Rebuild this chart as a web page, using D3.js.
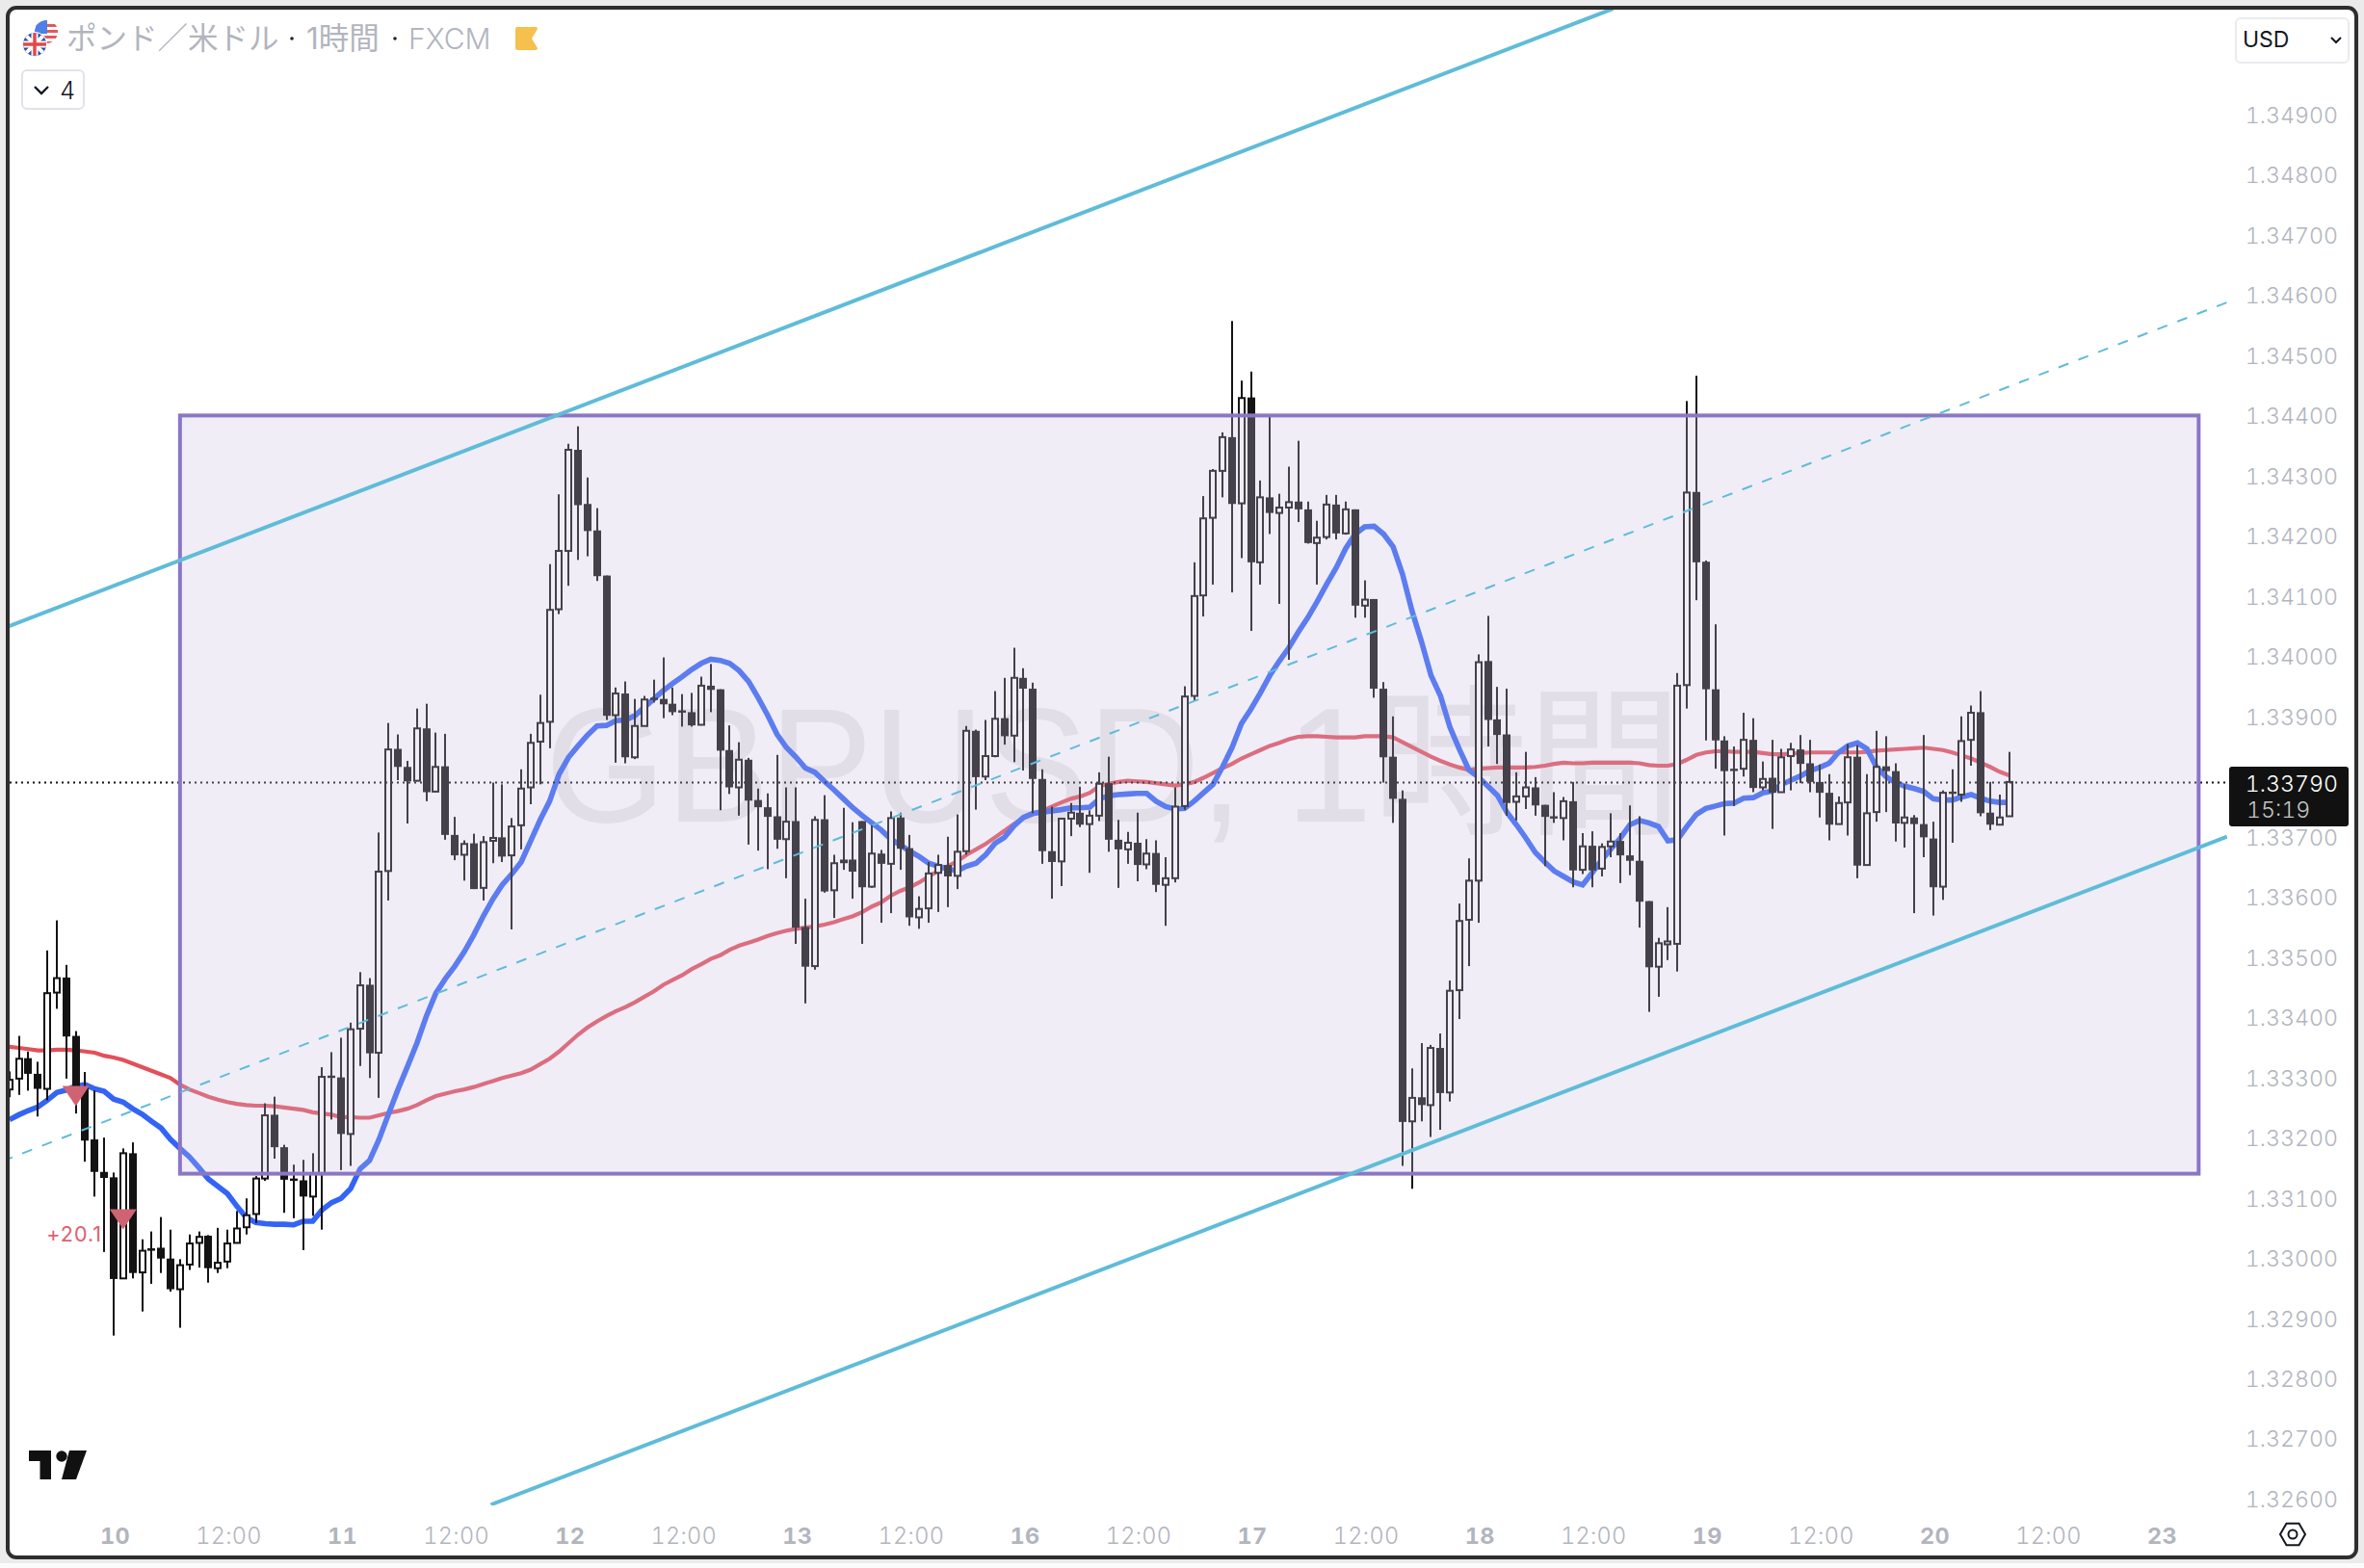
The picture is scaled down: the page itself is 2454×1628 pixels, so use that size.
<!DOCTYPE html>
<html><head><meta charset="utf-8">
<script src="https://cdn.jsdelivr.net/npm/d3@7/dist/d3.min.js"></script>
<style>html,body{margin:0;padding:0;background:#ebebeb;overflow:hidden}svg{display:block}
text{font-family:Inter,"Noto Sans CJK JP",sans-serif}</style></head><body><svg id="c" width="2454" height="1628"></svg>
<script>
// GBP/USD 1h candles, prices in points (1e-5). First bar sits 11 hours before the "10" tick.
const firstBar = -11;
const open = [133280,133298,133332,133306,133281,133441,133466,133369,133283,133197,133143,
133134,132966,133174,132976,133016,133017,132999,132948,132989,133025,133037,132983,132994,133025,133051,133073,133132,133238,133184,133132,133129,133102,133141,133303,
133300,133206,133381,133454,133341,133643,133846,133816,133793,133880,133775,133817,133703,133670,133689,133615,133694,133699,133669,133719,133782,133858,133891,
134078,134175,134343,134253,134209,134134,133902,133938,133832,133884,133931,133929,133921,133910,133907,133886,133951,133945,133844,133782,133828,133761,133749,
133734,133696,133726,133550,133485,133729,133611,133662,133662,133726,133617,133672,133655,133732,133681,133566,133581,133640,133653,133635,133676,133876,133800,133834,133897,133868,133964,133946,133796,133676,
133659,133730,133740,133721,133735,133789,133695,133679,133690,133654,133673,133620,133631,133751,133934,134101,134230,134308,134364,134254,134430,134156,134264,134238,134247,134257,134244,134188,134198,134252,134204,134244,134084,134095,
133946,133833,133763,133227,133267,133254,133349,133275,133445,133562,133627,133992,133895,133870,133758,133767,133782,133753,133734,133731,133759,133645,133685,133647,133684,133693,133669,133660,133593,133484,133524,133522,
133952,134273,134157,133945,133860,133813,133813,133861,133782,133798,133774,133834,133845,133822,133791,133773,133721,133757,133833,133653,133741,133817,133809,133723,133732,133721,133697,133617,133775,133770,133861,133907,133740,133720,133734];
const close = [133296,133331,133306,133281,133440,133465,133368,133283,133195,133143,133133,
132965,133174,132975,133012,133012,132999,132948,132988,133024,133035,132983,132992,133024,133049,133071,133132,133237,133184,133130,133130,133102,133140,133301,133301,
133206,133380,133453,133340,133642,133845,133816,133792,133880,133774,133816,133703,133669,133688,133613,133691,133698,133667,133717,133780,133856,133889,134077,
134175,134343,134251,134208,134133,133901,133938,133832,133884,133928,133928,133920,133907,133907,133885,133951,133944,133843,133782,133828,133760,133749,133733,
133695,133725,133549,133484,133728,133609,133656,133656,133642,133616,133672,133655,133731,133680,133566,133580,133639,133653,133634,133675,133876,133799,133834,133896,133867,133964,133946,133796,133676,133658,
133730,133740,133720,133735,133788,133695,133679,133690,133653,133672,133620,133631,133750,133933,134100,134229,134308,134364,134253,134429,134156,134264,134238,134247,134256,134244,134188,134197,134252,134204,134244,134084,134094,133946,
133832,133763,133226,133266,133254,133349,133274,133444,133560,133627,133990,133894,133869,133756,133767,133782,133752,133733,133731,133759,133644,133684,133644,133683,133692,133669,133660,133592,133483,133523,133526,133951,
134272,134156,133945,133860,133809,133811,133861,133781,133796,133773,133832,133845,133821,133791,133773,133720,133756,133832,133652,133739,133816,133809,133722,133732,133721,133699,133616,133773,133773,133859,133906,133739,133720,133732,133791];
const high = [133310,133369,133343,133326,133511,133561,133487,133377,133309,133278,133200,
133142,133182,133192,133031,133044,133068,133047,132998,133039,133044,133038,133050,133047,133078,133099,133136,133257,133268,133188,133155,133163,133174,133317,133342,
133366,133391,133475,133465,133707,133889,133870,133826,133913,133921,133873,133871,133733,133694,133705,133701,133790,133787,133731,133812,133871,133936,134153,
134269,134353,134382,134297,134246,134134,133948,133958,133929,133934,133961,133998,133948,133937,133939,133966,133987,133945,133885,133857,133831,133780,133772,
133836,133782,133782,133597,133734,133769,133670,133748,133724,133726,133719,133678,133742,133740,133703,133601,133658,133670,133700,133737,133884,133878,133894,133942,133964,134014,133980,133956,133812,133750,
133731,133756,133783,133744,133807,133833,133728,133708,133740,133696,133694,133666,133782,133950,134156,134266,134311,134372,134557,134458,134473,134292,134401,134270,134315,134358,134257,134225,134268,134268,134257,134244,134126,134095,
133957,133900,133777,133315,133357,133354,133373,133461,133589,133664,134003,134067,133949,133946,133807,133841,133799,133753,133774,133766,133791,133706,133709,133689,133739,133706,133752,133734,133593,133532,133583,133972,
134424,134466,134159,134053,133867,133850,133906,133897,133825,133861,133846,133856,133869,133861,133820,133804,133767,133854,133852,133804,133876,133867,133822,133787,133736,133869,133725,133777,133812,133900,133918,133942,133791,133770,133841];
const low = [133267,133271,133278,133235,133262,133414,133298,133240,133160,133102,133010,
132871,132966,132966,132911,132957,132975,132944,132884,132980,132984,132959,132975,132983,133024,133039,133058,133128,133165,133075,133066,133013,133070,133047,133230,
133146,133153,133319,133299,133266,133594,133794,133722,133792,133759,133774,133695,133661,133627,133613,133594,133656,133658,133546,133679,133754,133787,133847,
134070,134117,134160,134166,134125,133894,133823,133822,133829,133884,133923,133897,133902,133883,133883,133885,133907,133744,133771,133735,133687,133677,133646,
133680,133631,133522,133423,133479,133607,133565,133645,133597,133522,133615,133557,133573,133645,133552,133547,133557,133575,133583,133613,133670,133745,133794,133832,133853,133824,133810,133739,133655,133597,
133618,133701,133716,133640,133726,133675,133615,133655,133626,133646,133608,133552,133624,133745,133926,134066,134119,134264,134106,134163,134042,134119,134203,134087,133994,134223,134187,134119,134194,134194,134202,134064,134064,133931,
133790,133723,133153,133115,133227,133201,133213,133260,133397,133485,133557,133850,133821,133735,133727,133746,133735,133651,133723,133694,133616,133638,133616,133634,133666,133623,133636,133549,133409,133434,133495,133476,
133913,134093,133860,133813,133702,133751,133800,133774,133777,133713,133774,133777,133789,133774,133732,133694,133721,133702,133631,133652,133725,133741,133692,133682,133573,133666,133569,133595,133690,133758,133818,133734,133711,133720,133734];
// EMA lines read bar by bar
const maFast = [133230,133238,133245,133251,133262,133275,133279,133286,133288,133281,133277,
133264,133259,133248,133239,133227,133216,133197,133182,133168,133150,133131,133119,133107,133086,133067,133059,133057,133056,133056,133055,133061,133061,133080,133092,
133099,133115,133148,133162,133197,133239,133280,133318,133357,133402,133440,133464,133485,133509,133537,133568,133596,133620,133638,133658,133693,133728,133759,
133804,133832,133851,133869,133884,133885,133893,133894,133901,133915,133929,133943,133955,133966,133978,133988,133995,133993,133988,133976,133958,133931,133902,
133870,133848,133832,133814,133807,133792,133778,133763,133748,133735,133723,133711,133696,133686,133676,133667,133656,133651,133647,133643,133651,133656,133670,133689,133699,133718,133732,133739,133741,133743,
133745,133748,133748,133749,133763,133768,133770,133771,133772,133772,133759,133750,133746,133747,133759,133773,133787,133816,133848,133888,133912,133939,133968,133992,134014,134040,134064,134091,134120,134147,134179,134203,134215,134216,
134203,134182,134136,134075,134024,133968,133934,133882,133845,133811,133799,133784,133769,133741,133720,133698,133674,133658,133643,133634,133625,133620,133640,133661,133680,133698,133720,133727,133723,133717,133693,133695,
133717,133737,133747,133751,133755,133756,133764,133765,133773,133776,133787,133794,133801,133810,133815,133822,133840,133851,133856,133846,133816,133800,133790,133784,133780,133775,133763,133761,133761,133766,133770,133764,133759,133757,133757];
const maSlow = [133351,133349,133347,133345,133345,133346,133346,133345,133343,133341,133336,
133333,133329,133323,133317,133311,133305,133299,133288,133280,133274,133268,133263,133259,133256,133254,133253,133253,133252,133250,133248,133246,133242,133240,133238,
133234,133234,133233,133233,133237,133241,133244,133248,133254,133262,133269,133273,133277,133280,133284,133289,133294,133299,133303,133307,133313,133322,133331,
133343,133357,133371,133383,133393,133402,133410,133417,133425,133434,133443,133454,133462,133470,133480,133488,133497,133503,133512,133519,133524,133529,133535,
133540,133544,133547,133549,133551,133554,133558,133563,133568,133575,133584,133591,133602,133610,133616,133624,133634,133643,133651,133659,133670,133679,133688,133699,133710,133721,133731,133737,133743,133750,
133757,133763,133767,133773,133784,133788,133791,133793,133792,133791,133789,133787,133785,133787,133791,133798,133806,133814,133821,133830,133837,133844,133851,133856,133862,133866,133867,133867,133866,133865,133865,133865,133867,133867,
133867,133865,133857,133849,133841,133833,133826,133820,133815,133811,133813,133814,133815,133815,133815,133815,133816,133818,133821,133823,133822,133822,133823,133823,133823,133823,133823,133822,133819,133818,133818,133821,
133828,133836,133840,133842,133842,133841,133841,133841,133839,133837,133837,133838,133839,133840,133840,133840,133840,133840,133840,133841,133843,133844,133845,133846,133847,133848,133846,133844,133840,133835,133830,133823,133816,133808,133802];
// Drawings: [bar, price] pairs
const channelUpper = [[-11.2,134049],[158.2,135076]];
const channelMid = [[-11.74,133161],[223,134588]];
const channelLower = [[39.8,132590],[223,133700]];
const boxBars = [7,220];
const boxPrices = [134400,133140];
const signalBars = [-4,1];
const signalPrices = [133286,133081];
const lastPrice = 133790;
const priceTicks = d3.range(132600,134901,100).filter(p=>p!==133800);
const timeBars = [0,12,24,36,48,60,72,84,96,108,120,132,144,156,168,180,192,204,216];
const timeLabels = ["10","12:00","11","12:00","12","12:00","13","12:00","16","12:00","17","12:00","18","12:00","19","12:00","20","12:00","23"];

const svg = d3.select("#c");
const x = d3.scaleLinear().domain([0,216]).range([118,2243]);
const y = d3.scaleLinear().domain([132600,134900]).range([1556,119]);
const defs = svg.append("defs");
defs.append("clipPath").attr("id","pane").append("rect").attr("x",10).attr("y",10).attr("width",2302).attr("height",1553);
defs.append("clipPath").attr("id","fUS").append("circle").attr("cx",48).attr("cy",33).attr("r",12);
defs.append("clipPath").attr("id","fUK").append("circle").attr("cx",36).attr("cy",46).attr("r",12);

// page and pane
svg.append("rect").attr("x",8).attr("y",8).attr("width",2438).attr("height",1609).attr("rx",9).attr("fill","#fff");
svg.append("rect").attr("x",0).attr("y",1623).attr("width",2454).attr("height",5).attr("fill","#fbfbfb");

// watermark
svg.append("text").attr("x",1156).attr("y",853).attr("text-anchor","middle").attr("font-size",168)
  .attr("textLength",1180).attr("lengthAdjust","spacingAndGlyphs")
  .attr("fill","#eaeaea").style("font-family",'"Liberation Sans","Noto Sans CJK JP",sans-serif').text("GBPUSD, 1時間");

const pane = svg.append("g").attr("clip-path","url(#pane)");
const line = d3.line().x((d,i)=>x(firstBar+i)).y(d=>y(d));
pane.append("path").attr("d",line(maSlow)).attr("fill","none").attr("stroke","#e2505a").attr("stroke-width",4.2);
pane.append("path").attr("d",line(maFast)).attr("fill","none").attr("stroke","#3464f5").attr("stroke-width",5.6);

// candles
const candles = open.map((o,i)=>({k:firstBar+i,o,c:close[i],h:high[i],l:low[i]}));
const cx = d=>Math.round(x(d.k));
const cg = pane.append("g");
cg.selectAll("rect.w").data(candles).join("rect").attr("class","w")
  .attr("x",d=>cx(d)-1).attr("width",2).attr("y",d=>y(d.h)).attr("height",d=>y(d.l)-y(d.h)).attr("fill","#131313");
cg.selectAll("rect.b").data(candles).join("rect").attr("class","b")
  .each(function(d){
    const up=d.c>=d.o, t=y(Math.max(d.o,d.c)), b=y(Math.min(d.o,d.c));
    const r=d3.select(this);
    if(up){r.attr("x",cx(d)-3).attr("width",6).attr("y",t).attr("height",Math.max(b-t,3)).attr("fill","#fff").attr("stroke","#131313").attr("stroke-width",2);}
    else{r.attr("x",cx(d)-4).attr("width",8).attr("y",t).attr("height",Math.max(b-t,2.4)).attr("fill","#131313");}
  });

// signals
svg.selectAll("path.sig").data(signalBars).join("path").attr("class","sig")
  .attr("d",(k,i)=>{const px=x(k),py=y(signalPrices[i]);return `M${px-14},${py}L${px+14},${py}L${px},${py+21}Z`;})
  .attr("fill","#cf6373");
svg.append("text").attr("x",106).attr("y",1289).attr("text-anchor","end").attr("font-size",21.5).attr("letter-spacing",1).attr("fill","#e0606c").text("+20.1");

// last price line
svg.append("line").attr("x1",10).attr("x2",2314).attr("y1",y(lastPrice)).attr("y2",y(lastPrice))
  .attr("stroke","#111").attr("stroke-width",2).attr("stroke-dasharray","2 4");

// box overlay
svg.append("rect").attr("x",x(boxBars[0])).attr("width",x(boxBars[1])-x(boxBars[0]))
  .attr("y",y(boxPrices[0])).attr("height",y(boxPrices[1])-y(boxPrices[0]))
  .attr("fill","rgb(200,189,226)").attr("fill-opacity",.275).attr("stroke","#8c76c6").attr("stroke-width",4);

// channel
const seg = d3.line().x(d=>x(d[0])).y(d=>y(d[1]));
const chG = svg.append("g").attr("clip-path","url(#pane)");
[channelUpper,channelLower].forEach(c=>chG.append("path").attr("d",seg(c)).attr("fill","none").attr("stroke","#5fbcd8").attr("stroke-width",4));
chG.append("path").attr("d",seg(channelMid)).attr("fill","none").attr("stroke","#5fbcd8").attr("stroke-width",2).attr("stroke-dasharray","11 11");

// axes
const yAxis = d3.axisRight(y).tickValues(priceTicks).tickSize(0).tickPadding(0).tickFormat(d=>(d/1e5).toFixed(5));
const yg = svg.append("g").attr("transform","translate(2427,1)").call(yAxis);
yg.select(".domain").remove();
yg.selectAll("text").attr("text-anchor","end").attr("font-size",23.2).attr("font-weight",300).attr("fill","#b2b5be").style("font-family","Inter").style("font-variant-numeric","tabular-nums");
const xAxis = d3.axisBottom(x).tickValues(timeBars).tickSize(0).tickPadding(0).tickFormat((d,i)=>timeLabels[i]);
const xg = svg.append("g").attr("transform","translate(1,1586)").call(xAxis);
xg.select(".domain").remove();
xg.selectAll("text").attr("font-size",23.5).attr("letter-spacing",.3).attr("fill","#b2b5be").attr("font-weight",(d,i)=>timeLabels[i].includes(":")?300:700).style("font-family","Inter").style("font-variant-numeric","tabular-nums");

// price tag
svg.append("rect").attr("x",2314).attr("y",796).attr("width",124).attr("height",62).attr("rx",3).attr("fill","#111");
svg.append("text").attr("x",2427).attr("y",821.5).attr("text-anchor","end").attr("font-size",23.2).attr("font-weight",300).attr("fill","#fff").style("font-variant-numeric","tabular-nums").text((lastPrice/1e5).toFixed(5));
svg.append("text").attr("x",2332).attr("y",849).attr("font-size",23.2).attr("font-weight",300).attr("fill","#c4c4c4").style("font-variant-numeric","tabular-nums").text("15:19");

// header
const flags = svg.append("g");
const us = flags.append("g").attr("clip-path","url(#fUS)");
us.append("rect").attr("x",36).attr("y",21).attr("width",24).attr("height",24).attr("fill","#fff");
[25,31,37,43].forEach(v=>us.append("rect").attr("x",36).attr("y",v).attr("width",24).attr("height",3).attr("fill","#e05a5a"));
us.append("rect").attr("x",36).attr("y",21).attr("width",13).attr("height",14).attr("fill","#4f7fe8");
flags.append("circle").attr("cx",36).attr("cy",46).attr("r",13).attr("fill","#fff");
const uk = flags.append("g").attr("clip-path","url(#fUK)");
uk.append("rect").attr("x",24).attr("y",34).attr("width",24).attr("height",24).attr("fill","#2a4fa0");
uk.append("path").attr("d","M24,34L48,58M48,34L24,58").attr("stroke","#fff").attr("stroke-width",4);
uk.append("path").attr("d","M36,34V58M24,46H48").attr("stroke","#fff").attr("stroke-width",7);
uk.append("path").attr("d","M36,34V58M24,46H48").attr("stroke","#e04a4a").attr("stroke-width",3.5);
const hdr = svg.append("g").attr("font-size",31.5).attr("fill","#b2b5be");
hdr.append("text").attr("x",69).attr("y",51).style("font-family",'"Noto Sans CJK JP"').text("ポンド／米ドル");
hdr.append("text").attr("x",318).attr("y",51).style("font-family",'Inter,"Noto Sans CJK JP"').text("1時間");
hdr.append("text").attr("x",424).attr("y",51).attr("font-size",30).attr("font-weight",300).text("FXCM");
[303,410].forEach(v=>svg.append("circle").attr("cx",v).attr("cy",40).attr("r",1.8).attr("fill","#222"));
svg.append("path").attr("d","M537,28H556a2,2 0 0 1 2,2L552,40L558,50a2,2 0 0 1 -2,2H537a2,2 0 0 1 -2,-2V30a2,2 0 0 1 2,-2Z").attr("fill","#f5c04e");
svg.append("rect").attr("x",23).attr("y",73).attr("width",64).attr("height",40).attr("rx",5).attr("fill","#fff").attr("stroke","#e0e3eb").attr("stroke-width",2);
svg.append("path").attr("d","M36,90L43,97L50,90").attr("fill","none").attr("stroke","#131722").attr("stroke-width",2.4);
svg.append("text").attr("x",70).attr("y",103).attr("text-anchor","middle").attr("font-size",25).attr("font-weight",300).attr("fill","#131722").text("4");

// currency button
svg.append("rect").attr("x",2321).attr("y",19).attr("width",117).attr("height",46).attr("rx",5).attr("fill","#fff").attr("stroke","#e9ebf0").attr("stroke-width",2);
svg.append("text").attr("x",2328).attr("y",49).attr("font-size",23).attr("fill","#131722").text("USD");
svg.append("path").attr("d","M2420,39L2425,44L2430,39").attr("fill","none").attr("stroke","#131722").attr("stroke-width",2);

// settings glyph
svg.append("path").attr("d","M2367,1593L2373.5,1581.7H2386.5L2393,1593L2386.5,1604.3H2373.5Z").attr("fill","none").attr("stroke","#131722").attr("stroke-width",2);
svg.append("circle").attr("cx",2380).attr("cy",1593).attr("r",4.5).attr("fill","none").attr("stroke","#131722").attr("stroke-width",2);

// logo
const logo = svg.append("g").attr("fill","#111");
logo.append("path").attr("d","M30,1506H53V1536H41.5V1517H30Z");
logo.append("circle").attr("cx",64).attr("cy",1512).attr("r",5.7);
logo.append("path").attr("d","M72,1506H90L79,1536H64Z");

// frame
svg.append("rect").attr("x",8).attr("y",8).attr("width",2438).attr("height",1609).attr("rx",9).attr("fill","none").attr("stroke","#2e2e2e").attr("stroke-width",4);
</script></body></html>
